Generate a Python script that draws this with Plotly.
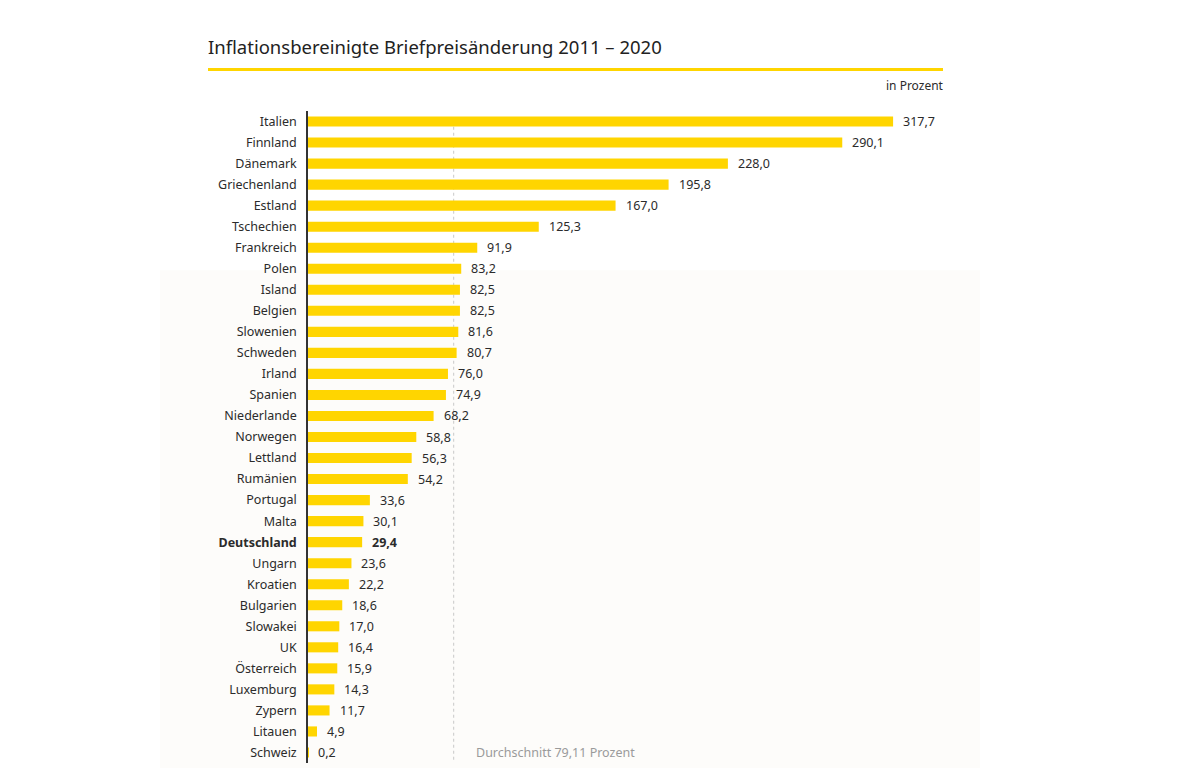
import plotly.graph_objects as go

laender = ["Italien", "Finnland", "Dänemark", "Griechenland", "Estland", "Tschechien",
           "Frankreich", "Polen", "Island", "Belgien", "Slowenien", "Schweden", "Irland",
           "Spanien", "Niederlande", "Norwegen", "Lettland", "Rumänien", "Portugal", "Malta",
           "Deutschland", "Ungarn", "Kroatien", "Bulgarien", "Slowakei", "UK", "Österreich",
           "Luxemburg", "Zypern", "Litauen", "Schweiz"]
werte = [317.7, 290.1, 228.0, 195.8, 167.0, 125.3, 91.9, 83.2, 82.5, 82.5, 81.6, 80.7, 76.0,
         74.9, 68.2, 58.8, 56.3, 54.2, 33.6, 30.1, 29.4, 23.6, 22.2, 18.6, 17.0, 16.4, 15.9,
         14.3, 11.7, 4.9, 0.2]
durchschnitt = 79.11
hervorheben = "Deutschland"

GELB = "#FFD500"
TEXT = "#2b2b2b"
FONT = "Noto Sans, Open Sans, sans-serif"

# Seite hat 8px Rand -> Figur 1168 breit
W, H = 1168, 760
L, T, PW, PH = 300, 102.5, 635, 653


def px_x(x):
    return (x - L) / PW


def px_y(y):
    return 1 - (y - T) / PH


def fmt(v):
    return f"{v:.1f}".replace(".", ",")


fig = go.Figure()
fig.add_trace(go.Bar(
    x=werte, y=laender, orientation="h",
    marker=dict(color=GELB, line=dict(width=0)),
    width=0.48, hoverinfo="skip",
))

annotations = []
for land, v in zip(laender, werte):
    t = fmt(v)
    if land == hervorheben:
        t = f"<b>{t}</b>"
    annotations.append(dict(x=v, y=land, text=t, showarrow=False, xanchor="left",
                            xshift=8, font=dict(size=12.5, color=TEXT, family=FONT)))

annotations.append(dict(x=durchschnitt, y=laender[-1], text="Durchschnitt 79,11 Prozent",
                        showarrow=False, xanchor="left", xshift=20,
                        font=dict(size=12.5, color="#9a9a9a", family=FONT)))
annotations.append(dict(text="in Prozent", xref="paper", yref="paper", x=1, y=px_y(77),
                        xanchor="right", yanchor="middle", showarrow=False, xshift=3,
                        font=dict(size=12, color=TEXT, family=FONT)))

shapes = [
    dict(type="rect", xref="paper", yref="paper", x0=px_x(152), x1=px_x(972),
         y0=-0.02, y1=px_y(262), fillcolor="#fdfcfa", line=dict(width=0), layer="below"),
    dict(type="line", x0=durchschnitt, x1=durchschnitt, xref="x",
         y0=0.005, y1=0.99, yref="paper",
         line=dict(color="#c8c8c8", width=1, dash="dot"), layer="below"),
    dict(type="line", xref="paper", yref="paper", x0=px_x(200), x1=1,
         y0=px_y(61), y1=px_y(61), line=dict(color=GELB, width=3)),
]

ticktext = [f"<b>{l}</b>" if l == hervorheben else l for l in laender]

fig.update_layout(
    width=W, height=H,
    margin=dict(l=L, r=W - L - PW, t=T, b=H - T - PH),
    paper_bgcolor="white", plot_bgcolor="rgba(0,0,0,0)",
    showlegend=False,
    font=dict(family=FONT, color=TEXT),
    title=dict(text="Inflationsbereinigte Briefpreisänderung 2011 – 2020",
               x=200 / W, xanchor="left", xref="container",
               y=1 - 40 / H, yanchor="middle", yref="container",
               font=dict(size=18.5, color="#222222", family=FONT)),
    xaxis=dict(range=[0, 344.8], visible=False, fixedrange=True),
    yaxis=dict(categoryorder="array", categoryarray=laender, autorange=False,
               range=[30.5, -0.5], tickmode="array", tickvals=laender, ticktext=ticktext,
               tickfont=dict(size=12.5, color=TEXT, family=FONT), ticks="",
               ticklabelstandoff=7, showline=True, linecolor="#333333", linewidth=1.5,
               showgrid=False, zeroline=False, fixedrange=True),
    annotations=annotations,
    shapes=shapes,
)

fig.write_html("out.html")
